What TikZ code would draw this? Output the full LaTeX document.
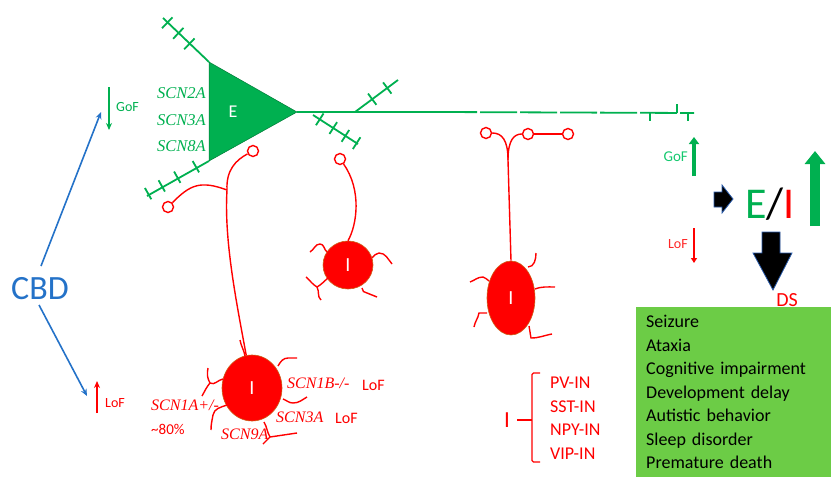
\documentclass[tikz,border=0pt]{standalone}
\usepackage{fontspec}
\setmainfont{Carlito}
\newfontfamily\genefont{Liberation Serif}
\usetikzlibrary{arrows.meta,calc,shapes.geometric}
\definecolor{ngreen}{RGB}{0,176,80}
\definecolor{lgreen}{RGB}{20,200,110}
\definecolor{cbdblue}{RGB}{36,114,200}
\definecolor{boxgreen}{RGB}{108,204,70}
\definecolor{somaedge}{RGB}{205,95,25}
\definecolor{glow}{RGB}{40,90,170}
\newcommand{\sz}[1]{\fontsize{#1}{#1}\selectfont}
\newcommand{\gene}[1]{{\genefont\itshape #1}}

\begin{document}
\begin{tikzpicture}[x=1pt,y=-1pt,
          dend/.style={ngreen,line width=1.8pt},
          axon/.style={red,line width=1.4pt},
          term/.style={circle,draw=red,fill=white,line width=1.4pt,
            minimum size=11pt,inner sep=0pt},
          soma/.style={ellipse,fill=red,draw=somaedge,line width=.6pt,
            inner sep=0pt,text=white,font=\sz{20}},
          lbl/.style={inner sep=0pt,anchor=west}]
  \useasboundingbox (0,0) rectangle (831,477);
  % pyramidal cell
  \coordinate (top) at (209,62);
  \coordinate (bot) at (209,161);
  \coordinate (apex) at (297,112);
  \coordinate (dtl) at (163,18);
  \coordinate (dbl) at (147,196);
  \coordinate (br1) at (355,112);
  \coordinate (dur) at (398,80);
  \coordinate (br2) at (313,115);
  \coordinate (dlr) at (358,144);
  \coordinate (axbrk) at (440,112);
  \coordinate (axend) at (694,113);
  \fill[ngreen,draw=ngreen!70!black,line width=.5pt] (top)--(apex)--(bot)--cycle;
  \node[text=white,font=\sz{18}] (E) at (233,112) {E};
  \draw[dend] (top)--(dtl) (bot)--(dbl) (br1)--(dur) (br2)--(dlr);
  \draw[dend] (apex)--(axbrk);
  \draw[dend,dash pattern=on 37pt off 3pt] (axbrk)--(axend);
  \foreach \t in {.42,.66,.9}
    \draw[dend] ($(top)!\t!(dtl)!-7pt!90:(dtl)$)--($(top)!\t!(dtl)!8pt!90:(dtl)$);
  \foreach \t in {.2,.5,.75,.97}
    \draw[dend] ($(bot)!\t!(dbl)!-8pt!90:(dbl)$)--($(bot)!\t!(dbl)!5pt!90:(dbl)$);
  \foreach \t in {.4,.75}
    \draw[dend] ($(br1)!\t!(dur)!-7pt!90:(dur)$)--($(br1)!\t!(dur)!7pt!90:(dur)$);
  \foreach \t in {.15,.45,.72,.97}
    \draw[dend] ($(br2)!\t!(dlr)!-7pt!90:(dlr)$)--($(br2)!\t!(dlr)!7pt!90:(dlr)$);
  \draw[dend,line width=1.3pt] (650,113)--(650,121) (677,104)--(677,113) (688,113)--(688,121);
  \node[lbl,anchor=east,text=ngreen,font=\sz{16.5}] (g2a) at (206,93) {\gene{SCN2A}};
  \node[lbl,anchor=east,text=ngreen,font=\sz{16.5}] (g3a) at (206,120) {\gene{SCN3A}};
  \node[lbl,anchor=east,text=ngreen,font=\sz{16.5}] (g8a) at (206,146) {\gene{SCN8A}};

  % interneurons
  \node[soma,minimum width=60pt,minimum height=66pt] (inA) at (252,388) {I};
  \node[soma,minimum width=50pt,minimum height=48pt] (inB) at (348,265) {I};
  \node[soma,minimum width=48pt,minimum height=74pt] (inC) at (511,298) {I};
  \node[term] (tA) at (253,151) {};
  \node[term] (tB) at (168,207) {};
  \node[term] (tC) at (340,159) {};
  \node[term] (tD) at (486,133) {};
  \node[term] (tE) at (528,134) {};
  \node[term] (tF) at (568,134) {};
  \coordinate (bA) at (227,190);
  \coordinate (bC) at (508,160);
  \draw[axon] (inA.100) .. controls (236,300) and (224,240) .. (bA);
  \draw[axon] (bA) .. controls (226,170) and (236,160) .. (tA);
  \draw[axon] (bA) .. controls (200,180) and (190,185) .. (tB);
  \draw[axon] (inB.north) .. controls (357,225) and (362,190) .. (tC);
  \draw[axon] (inC.north) -- (bC);
  \draw[axon] (bC) .. controls (508,140) and (502,133) .. (tD);
  \draw[axon] (bC) .. controls (508,140) and (514,134) .. (tE);
  \draw[axon] (tE)--(tF);
  % dendrites of the interneurons
  \draw[axon] (245,356) to[out=100,in=-80] (240,340)
    (223,379) to[out=190,in=-30] (210,383) to[out=120,in=-100] (208,368)
    (210,383) to[out=-130,in=60] (202,396)
    (227,405) to[out=200,in=80] (213,415) to[out=-100,in=90] (211,430)
    (278,366) to[out=60,in=180] (288,358) -- (297,358)
    (283,399) to[out=-20,in=180] (293,403) to[out=0,in=-150] (307,397)
    (264,422) to[out=-60,in=120] (270,437) -- (297,433)
    (270,437) to[out=-120,in=60] (263,444);
  \draw[axon] (327,252) to[out=140,in=0] (320,244) to[out=180,in=30] (310,252)
    (328,278) to[out=220,in=30] (317,287) to[out=150,in=-40] (306,277)
    (317,287) to[out=-60,in=140] (321,300)
    (372,258) to[out=40,in=180] (379,253) to[out=0,in=130] (392,264)
    (362,288) to[out=-90,in=180] (367,293) -- (377,297);
  \draw[axon] (528,267) to[out=0,in=-90] (536,253)
    (535,289) to[out=20,in=180] (555,287)
    (489,281) to[out=160,in=0] (483,277) to[out=180,in=20] (470,282)
    (487,313) to[out=180,in=0] (479,313) to[out=-100,in=80] (474,327)
    (529,326) to[out=-80,in=100] (531,338) to[out=0,in=190] (552,334);
  \node[lbl,text=red,font=\sz{16}] (g1a) at (151,405) {\gene{SCN1A+/-}};
  \node[lbl,text=red,font=\sz{15}] (pct) at (151,429) {\textasciitilde 80\%};
  \node[lbl,text=red,font=\sz{16}] (g9a) at (221,434) {\gene{SCN9A}};
  \node[lbl,text=red,font=\sz{16}] (g1b) at (287,383) {\gene{SCN1B-/-}};
  \node[lbl,text=red,font=\sz{16}] (lofb) at (362,385) {LoF};
  \node[lbl,text=red,font=\sz{16}] (g3i) at (276,417) {\gene{SCN3A}};
  \node[lbl,text=red,font=\sz{16}] (lofc) at (335,418) {LoF};

  % interneuron classes
  \node[text=red,font=\sz{23}] (cls) at (507,420) {I};
  \draw[red,line width=1.4pt] (cls.east)+(4,0) -- (532,420);
  \draw[red,line width=1.4pt,rounded corners=1.5pt] (540,373)--(532,373)--(532,462)--(540,462);
  \foreach \n/\y in {PV-IN/383,SST-IN/407,NPY-IN/430,VIP-IN/454}
    \node[lbl,text=red,font=\sz{18}] (\n) at (550,\y) {\n};

  % CBD
  \node[text=cbdblue,font=\sz{34}] (cbd) at (40,289) {CBD};
  \draw[cbdblue,line width=1.6pt,-{Stealth[length=7pt,width=6pt]}] (41,266)--(101,112);
  \draw[cbdblue,line width=1.6pt,-{Stealth[length=7pt,width=6pt]}] (39,305)--(87,396);
  \draw[ngreen,line width=1.8pt,-{Stealth[length=7pt,width=6pt]}] (109,87)--(109,130);
  \node[lbl,text=ngreen,font=\sz{14}] (gofl) at (116,107) {GoF};
  \draw[red,line width=1.8pt,-{Stealth[length=7pt,width=6pt]}] (97,413)--(97,381);
  \node[lbl,text=red,font=\sz{14}] (lofl) at (105,403) {LoF};

  % E/I balance
  \draw[ngreen,line width=4pt,-{Triangle[length=7pt,width=10pt]}] (694,176)--(694,137);
  \node[lbl,anchor=east,text=lgreen,font=\sz{15}] (gofr) at (688,157) {GoF};
  \draw[red,line width=2.4pt,-{Triangle[length=5pt,width=6pt]}] (694,228)--(694,263);
  \node[lbl,anchor=east,text=red!85!white,font=\sz{14}] (lofr) at (688,244) {LoF};
  \fill[black,draw=glow,line width=.8pt] (714,192)--(722,192)--(722,185)--(733,199)
    --(722,213)--(722,207)--(714,207)--cycle;
  \node[font=\sz{44}] (ei) at (770,204) {\textcolor{ngreen}{E}/\textcolor{red}{I}};
  \draw[ngreen,line width=10pt,-{Triangle[length=13pt,width=20pt]}] (815,226)--(815,151);
  \fill[black,draw=glow,line width=.8pt] (762,232)--(780,232)--(780,253)--(792,253)
    --(773,290)--(753,253)--(762,253)--cycle;
  \node[text=red,font=\sz{20}] (ds) at (787,300) {DS};
  \node[fill=boxgreen,anchor=north west,minimum width=195pt,minimum height=170pt,
    text width=177pt,align=left,inner xsep=10pt,font=\fontsize{18}{23.5}\selectfont]
    (sym) at (636,307) {Seizure\\Ataxia\\Cognitive impairment\\Development delay\\
    Autistic behavior\\Sleep disorder\\Premature death};
\end{tikzpicture}
\end{document}
